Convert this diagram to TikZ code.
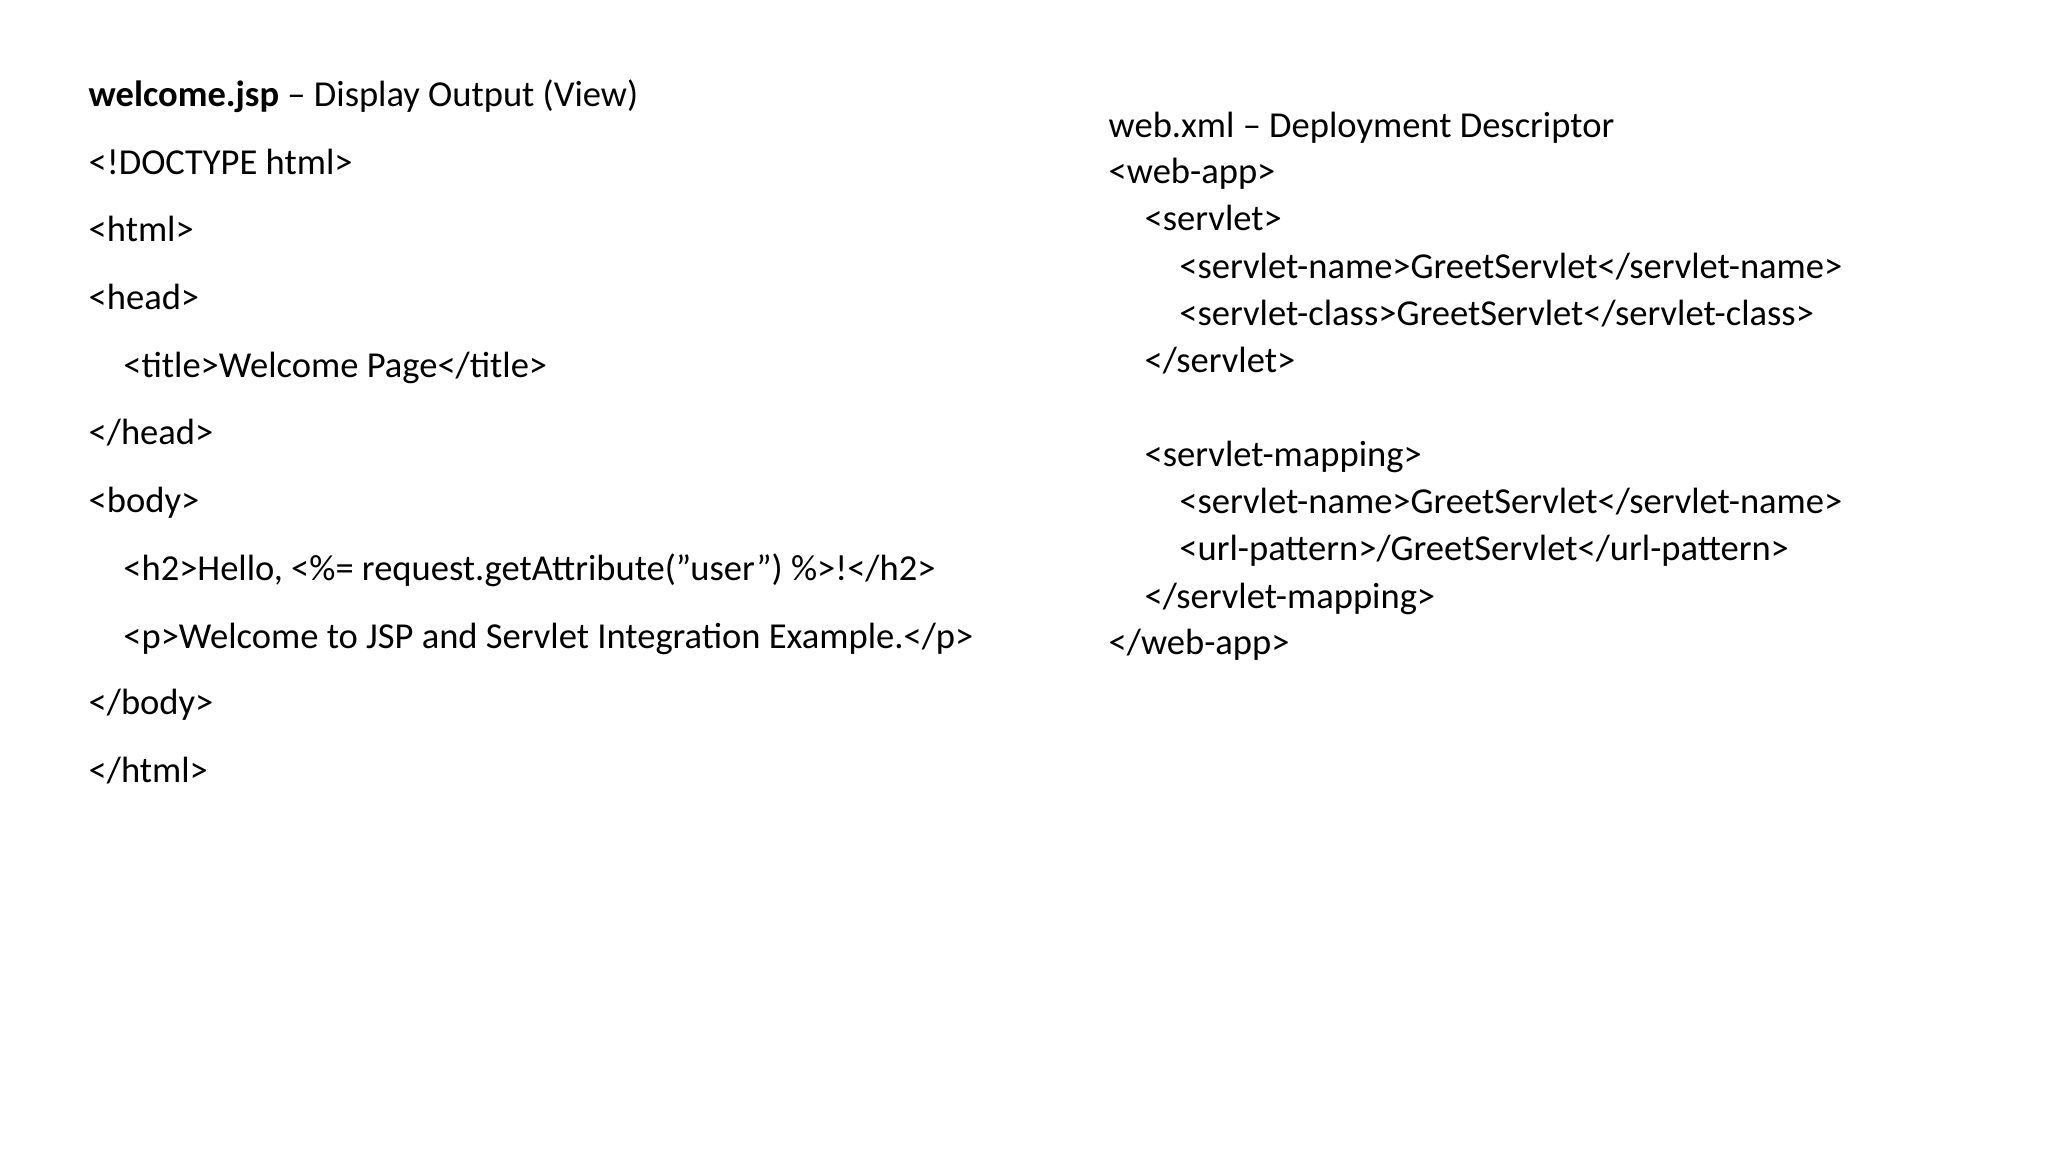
\documentclass[tikz,border=0pt]{standalone}
\usepackage{fontspec}
\setmainfont{Carlito}
\begin{document}
\begin{tikzpicture}[x=0.013333cm,y=-0.013333cm,
  t/.style={anchor=base west,inner sep=0pt,font=\fontsize{10.4pt}{12pt}\selectfont}]
\useasboundingbox (0,0) rectangle (1536,864);
\node[t] (l1) at (66,80) {\textbf{welcome.jsp} – Display Output (View)};
\node[t] (l2) at (66,131) {<!DOCTYPE html>};
\node[t] (l3) at (66,181) {<html>};
\node[t] (l4) at (66,232) {<head>};
\node[t] (l5) at (92,283) {<title>Welcome Page</title>};
\node[t] (l6) at (66,333) {</head>};
\node[t] (l7) at (66,384) {<body>};
\node[t] (l8) at (92,435) {<h2>Hello, <\%= request.getAttribute("user") \%>!</h2>};
\node[t] (l9) at (92,486) {<p>Welcome to JSP and Servlet Integration Example.</p>};
\node[t] (l10) at (66,536) {</body>};
\node[t] (l11) at (66,587) {</html>};
\node[t] (r1) at (831,103) {web.xml – Deployment Descriptor};
\node[t] (r2) at (831,138) {<web-app>};
\node[t] (r3) at (858,173) {<servlet>};
\node[t] (r4) at (884,209) {<servlet-name>GreetServlet</servlet-name>};
\node[t] (r5) at (884,244) {<servlet-class>GreetServlet</servlet-class>};
\node[t] (r6) at (858,279) {</servlet>};
\node[t] (r7) at (858,350) {<servlet-mapping>};
\node[t] (r8) at (884,385) {<servlet-name>GreetServlet</servlet-name>};
\node[t] (r9) at (884,420) {<url-pattern>/GreetServlet</url-pattern>};
\node[t] (r10) at (858,456) {</servlet-mapping>};
\node[t] (r11) at (831,491) {</web-app>};
\end{tikzpicture}
\end{document}
